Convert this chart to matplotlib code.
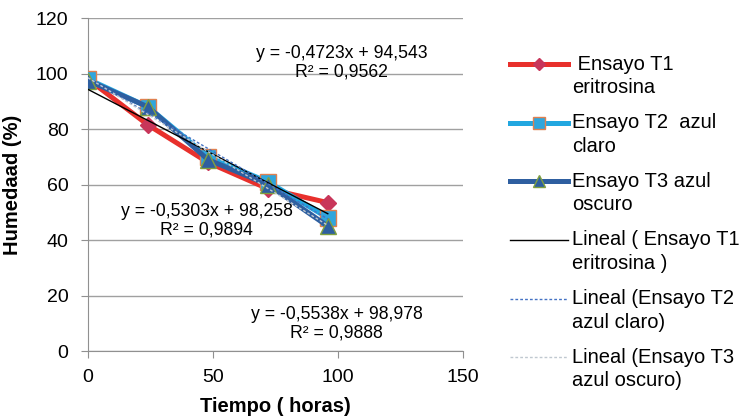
import numpy as np
import matplotlib
matplotlib.use("Agg")
import matplotlib.pyplot as plt
from matplotlib.legend_handler import HandlerLine2D

plt.rcParams['font.family'] = ['Liberation Sans', 'DejaVu Sans']

tiempo = [0, 24, 48, 72, 96]
t1 = [98, 81.5, 68, 58.5, 53.5]
t2 = [98, 88, 70, 61, 48]
t3 = [97.5, 88, 69, 60, 45]
labels = [" Ensayo T1\neritrosina", "Ensayo T2  azul\nclaro", "Ensayo T3 azul\noscuro",
          "Lineal ( Ensayo T1\neritrosina )", "Lineal (Ensayo T2\nazul claro)",
          "Lineal (Ensayo T3\nazul oscuro)"]
eq_texts = ["y = -0,4723x + 94,543\nR² = 0,9562",
            "y = -0,5303x + 98,258\nR² = 0,9894",
            "y = -0,5538x + 98,978\nR² = 0,9888"]


class UpHandler(HandlerLine2D):
    def __init__(self, shift, **kw):
        super().__init__(**kw)
        self.shift = shift

    def create_artists(self, legend, orig_handle, xdescent, ydescent, width, height, fontsize, trans):
        return super().create_artists(legend, orig_handle, xdescent,
                                      ydescent - 2 * self.shift * fontsize,
                                      width, height, fontsize, trans)


fig = plt.figure(figsize=(7.42, 4.2), dpi=100)
ax = fig.add_axes([0.1186, 0.164, 0.505, 0.793])

x = np.array(tiempo)
h1, = ax.plot(x, t1, color='#E8302C', lw=3.6, marker='D', ms=8, mfc='#C8365A', mec='#C8365A', zorder=3)
h2, = ax.plot(x, t2, color='#22A7E0', lw=3.6, marker='s', ms=11, mfc='#2FA6DD', mec='#E08050', mew=1, zorder=4)
h3, = ax.plot(x, t3, color='#2E5FA0', lw=3.6, marker='^', ms=11, mfc='#2E5FA0', mec='#7FA040', mew=1, zorder=5)

xx = np.array([0, 96])
styles = [dict(color='black', lw=1, ls='-'),
          dict(color='#4472C4', lw=1, ls=(0, (2, 1.5))),
          dict(color='#C0C8D0', lw=1, ls=(0, (2, 1.5)))]
trend_handles = []
for ys, st in zip([t1, t2, t3], styles):
    m, b = np.polyfit(x, ys, 1)
    l, = ax.plot(xx, m * xx + b, zorder=6, **st)
    trend_handles.append(l)

ax.set_xlim(0, 150)
ax.set_ylim(0, 120)
ax.set_xticks([0, 50, 100, 150])
ax.set_yticks(range(0, 121, 20))
ax.grid(axis='y', color='#A0A0A0', lw=1)
ax.set_axisbelow(True)
for s in ['top', 'right']:
    ax.spines[s].set_visible(False)
for s in ['left', 'bottom']:
    ax.spines[s].set_color('#909090')
ax.tick_params(axis='both', colors='#909090', labelcolor='black', labelsize=14, length=5, direction='out')
ax.tick_params(axis='y', pad=9)
ax.tick_params(axis='x', pad=8)
ax.set_xlabel("Tiempo ( horas)", fontsize=14.5, fontweight='bold', labelpad=8)
ax.set_ylabel("Humedaad (%)", fontsize=14.5, fontweight='bold', labelpad=10)

ax.text(101.6, 104, eq_texts[0], ha='center', va='center', fontsize=12.7, linespacing=1.1)
ax.text(47.6, 47, eq_texts[1], ha='center', va='center', fontsize=12.7, linespacing=1.1)
ax.text(99.6, 10, eq_texts[2], ha='center', va='center', fontsize=12.7, linespacing=1.1)

hmap = {h: UpHandler(0.6) for h in [h1, h2, h3] + trend_handles}
leg = fig.legend([h1, h2, h3] + trend_handles, labels, loc='upper left',
                 bbox_to_anchor=(0.687, 0.87), frameon=False, fontsize=14.5,
                 handlelength=2.9, handletextpad=0.2, labelspacing=0.8,
                 markerscale=0.8, handler_map=hmap, borderaxespad=0, borderpad=0)
for t in leg.get_texts():
    t.set_linespacing(1.3)

fig.savefig("out.png", dpi=100)
